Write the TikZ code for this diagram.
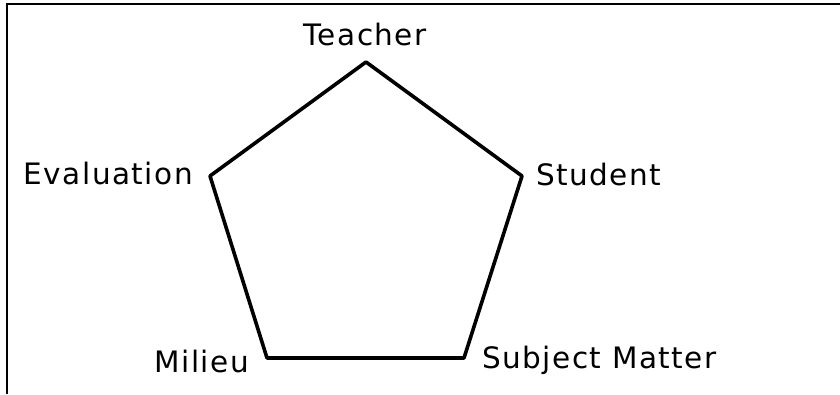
\documentclass[tikz,border=0pt]{standalone}
\usepackage{fontspec}
\setmainfont[LetterSpace=5]{DejaVu Sans}
\usetikzlibrary{positioning}

\begin{document}
\begin{tikzpicture}[x=1pt,y=1pt,
  every node/.style={font=\fontsize{29.5}{34}\selectfont,inner sep=0pt},
  side/.style={line width=3.6pt,line join=round}]

\useasboundingbox (0,0) rectangle (840,394);

% frame
\draw[line width=2.6pt] (7,0) -- (7,390) -- (840,390);

% corners of the pentagon
\coordinate (teacher) at (366,332);
\coordinate (student) at (522,218);
\coordinate (subject) at (464,36);
\coordinate (milieu) at (267,36);
\coordinate (evaluation) at (210,218);

% pentagon
\draw[side] (teacher) -- (student) -- (subject) -- (milieu) -- (evaluation) -- cycle;

% labels
\node[anchor=base] (teacherlabel) at (365,348) {Teacher};
\node[anchor=base west] (studentlabel) at (536,208) {Student};
\node[anchor=base west] (subjectlabel) at (482,26) {Subject Matter};
\node[anchor=base east] (milieulabel) at (249,22) {Milieu};
\node[anchor=base east] (evaluationlabel) at (193,209) {Evaluation};

\end{tikzpicture}
\end{document}
